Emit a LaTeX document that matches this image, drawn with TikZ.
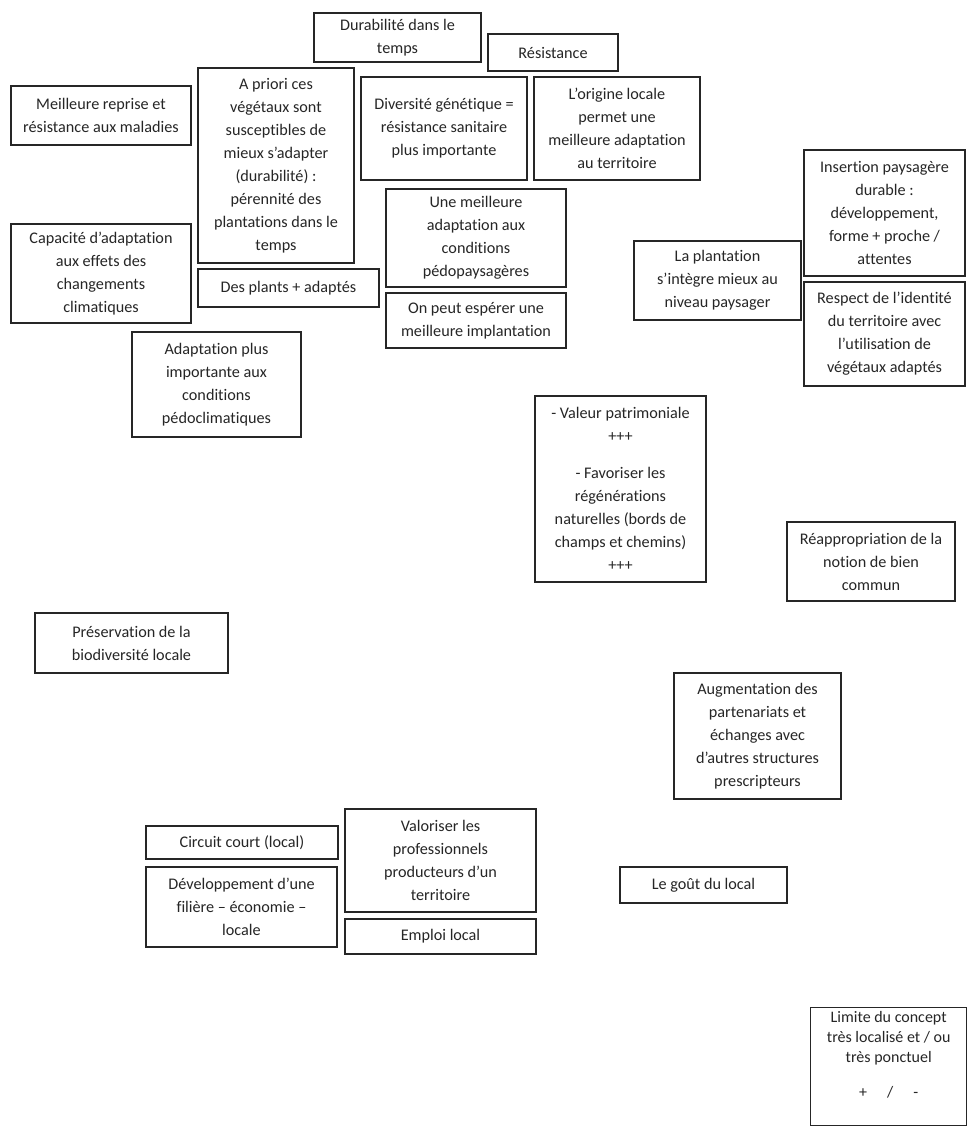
\documentclass[tikz,border=0pt]{standalone}
\usepackage{fontspec}
\setmainfont[Ligatures=CommonOff]{Carlito}
\tikzset{
  boite/.style={draw=black!85, line width=1.4pt, align=center, inner sep=0pt,
    text=black!85, font=\fontsize{16.2}{23}\selectfont},
}
\newcommand\bx[6]{\node[boite, minimum width={(#4-#2)*1pt}, minimum height={(#5-#3)*1pt}] (#1) at ({(#2+#4)/2},{(#3+#5)/2}) {#6};}
\begin{document}
\begin{tikzpicture}[x=1pt,y=-1pt]
\useasboundingbox[fill=white] (0,0) rectangle (967,1126);
\bx{dur}{314}{13}{481}{62}{Durabilité dans le\\temps}
\bx{res}{488}{34}{618}{71}{Résistance}
\bx{rep}{11}{86}{191}{145}{Meilleure reprise et\\résistance aux maladies}
\bx{apr}{198}{68}{354}{263}{A priori ces\\végétaux sont\\susceptibles de\\mieux s’adapter\\(durabilité) :\\pérennité des\\plantations dans le\\temps}
\bx{div}{361}{77}{527}{180}{Diversité génétique =\\résistance sanitaire\\plus importante}
\bx{ori}{534}{77}{700}{180}{L’origine locale\\permet une\\meilleure adaptation\\au territoire}
\bx{mei}{386}{189}{566}{287}{Une meilleure\\adaptation aux\\conditions\\pédopaysagères}
\bx{esp}{386}{293}{566}{348}{On peut espérer une\\meilleure implantation}
\bx{cap}{11}{224}{191}{323}{Capacité d’adaptation\\aux effets des\\changements\\climatiques}
\bx{pla}{198}{269}{379}{307}{Des plants + adaptés}
\bx{adp}{132}{332}{301}{437}{Adaptation plus\\importante aux\\conditions\\pédoclimatiques}
\bx{int}{634}{241}{801}{320}{La plantation\\s’intègre mieux au\\niveau paysager}
\bx{ins}{804}{150}{965}{276}{Insertion paysagère\\durable :\\développement,\\forme + proche /\\attentes}
\bx{rsp}{804}{282}{965}{386}{Respect de l’identité\\du territoire avec\\l’utilisation de\\végétaux adaptés}
\bx{val}{535}{396}{706}{582}{- Valeur patrimoniale\\+++\\[14pt]- Favoriser les\\régénérations\\naturelles (bords de\\champs et chemins)\\+++}
\bx{rea}{787}{522}{955}{601}{Réappropriation de la\\notion de bien\\commun}
\bx{pre}{35}{613}{228}{673}{Préservation de la\\biodiversité locale}
\bx{aug}{674}{673}{841}{799}{Augmentation des\\partenariats et\\échanges avec\\d’autres structures\\prescripteurs}
\bx{cir}{146}{826}{338}{859}{Circuit court (local)}
\bx{dev}{146}{867}{337}{947}{Développement d’une\\filière – économie –\\locale}
\bx{vlr}{345}{809}{536}{912}{Valoriser les\\professionnels\\producteurs d’un\\territoire}
\bx{emp}{345}{919}{536}{954}{Emploi local}
\bx{gou}{620}{867}{787}{903}{Le goût du local}
\node[boite, font=\fontsize{16}{20}\selectfont, minimum width=156pt, minimum height=118pt, anchor=north west] (lim) at (810,1007) {Limite du concept\\très localisé et / ou\\très ponctuel\\[15pt]+\hspace{20pt}/\hspace{20pt}-\\[4pt]};
\end{tikzpicture}
\end{document}
